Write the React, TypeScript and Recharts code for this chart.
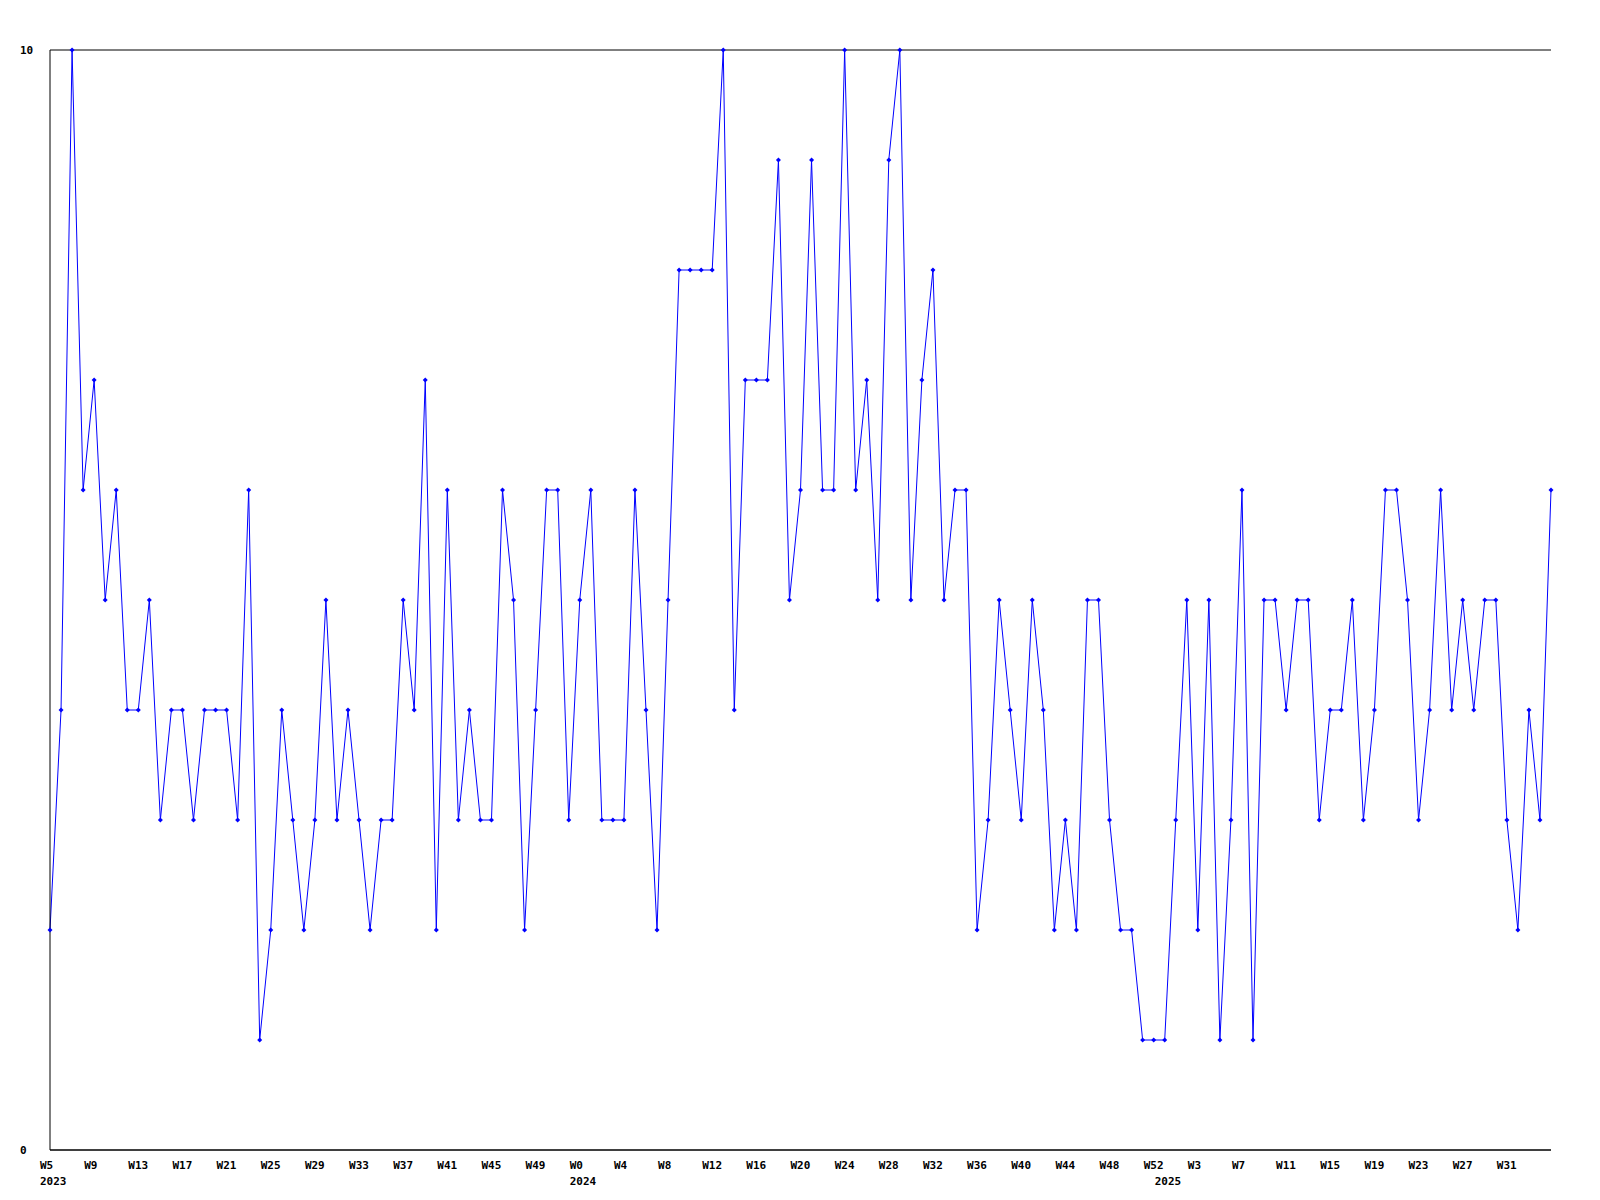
import { LineChart, Line, XAxis, YAxis, CartesianGrid } from "recharts";

// weekly values, one array per year
const VALUES_2023 = [
  2, 4, 10, 6, 7, 5, 6, 4, 4, 5, 3, 4, 4, 3, 4, 4, 4, 3, 6, 1, 2, 4, 3, 2,
  3, 5, 3, 4, 3, 2, 3, 3, 5, 4, 7, 2, 6, 3, 4, 3, 3, 6, 5, 2, 4, 6, 6, 3,
];
const VALUES_2024 = [
  5, 6, 3, 3, 3, 6, 4, 2, 5, 8, 8, 8, 8, 10, 4, 7, 7, 7, 9, 5, 6, 9, 6, 6,
  10, 6, 7, 5, 9, 10, 5, 7, 8, 5, 6, 6, 2, 3, 5, 4, 3, 5, 4, 2, 3, 2, 5, 5,
  3, 2, 2, 1, 1,
];
const VALUES_2025 = [
  1, 3, 5, 2, 5, 1, 3, 6, 1, 5, 5, 4, 5, 5, 3, 4, 4, 5, 3, 4, 6, 6, 5, 3,
  4, 6, 4, 5, 4, 5, 5, 3, 2, 4, 3, 6,
];

const YEARS = [2023, 2024, 2025];
const FIRST_WEEK = [5, 0, 0];
const SERIES = [VALUES_2023, VALUES_2024, VALUES_2025];

const Y_TICKS = [0, 10];

const data: { i: number; week: number; year: number; first: boolean; value: number }[] = [];
SERIES.forEach((vals, y) => {
  vals.forEach((v, k) => {
    data.push({
      i: data.length,
      week: FIRST_WEEK[y] + k,
      year: YEARS[y],
      first: k === 0,
      value: v,
    });
  });
});

const last = data.length - 1;
const showWeek = (i: number) => i % 4 === 0 && i < last - 2;
const xTicks = data.filter((d) => showWeek(d.i) || d.first).map((d) => d.i);

const FONT = "'DejaVu Sans Mono', monospace";

function XTick(props: any) {
  const { x, y, payload } = props;
  const d = data[payload.value];
  if (!d) return <g />;
  return (
    <g>
      {showWeek(d.i) && (
        <text x={x - 10} y={y + 11} textAnchor="start" fontFamily={FONT} fontSize={11} fontWeight="bold" fill="#000">
          {"W" + d.week}
        </text>
      )}
      {d.first && (
        <text x={x - 10} y={y + 27} textAnchor="start" fontFamily={FONT} fontSize={11} fontWeight="bold" fill="#000">
          {d.year}
        </text>
      )}
    </g>
  );
}

function YTick(props: any) {
  const { y, payload } = props;
  return (
    <text x={12} y={y + 4} textAnchor="start" fontFamily={FONT} fontSize={11} fontWeight="bold" fill="#000">
      {payload.value}
    </text>
  );
}

function Dot(props: any) {
  const { cx, cy } = props;
  if (cx == null || cy == null) return null;
  return (
    <path
      d={`M${cx - 2.5},${cy} L${cx},${cy - 2.5} L${cx + 2.5},${cy} L${cx},${cy + 2.5} Z`}
      fill="#0000ff"
      stroke="none"
    />
  );
}

export default function App() {
  return (
    <div style={{ width: 1584, height: 1184, background: "#fff" }}>
      <LineChart
        width={1584}
        height={1184}
        data={data}
        margin={{ top: 42, right: 41, bottom: 12, left: 0 }}
      >
        <CartesianGrid vertical={false} stroke="#000" strokeWidth={1} />
        <XAxis
          dataKey="i"
          type="number"
          domain={[0, last]}
          ticks={xTicks}
          interval={0}
          tick={<XTick />}
          tickLine={false}
          axisLine={{ stroke: "#000" }}
          height={30}
        />
        <YAxis
          domain={[0, 10]}
          ticks={Y_TICKS}
          width={42}
          tick={<YTick />}
          tickLine={false}
          axisLine={{ stroke: "#000" }}
        />
        <Line
          type="linear"
          dataKey="value"
          stroke="#0000ff"
          strokeWidth={1}
          dot={<Dot />}
          activeDot={false}
          isAnimationActive={false}
        />
      </LineChart>
    </div>
  );
}
